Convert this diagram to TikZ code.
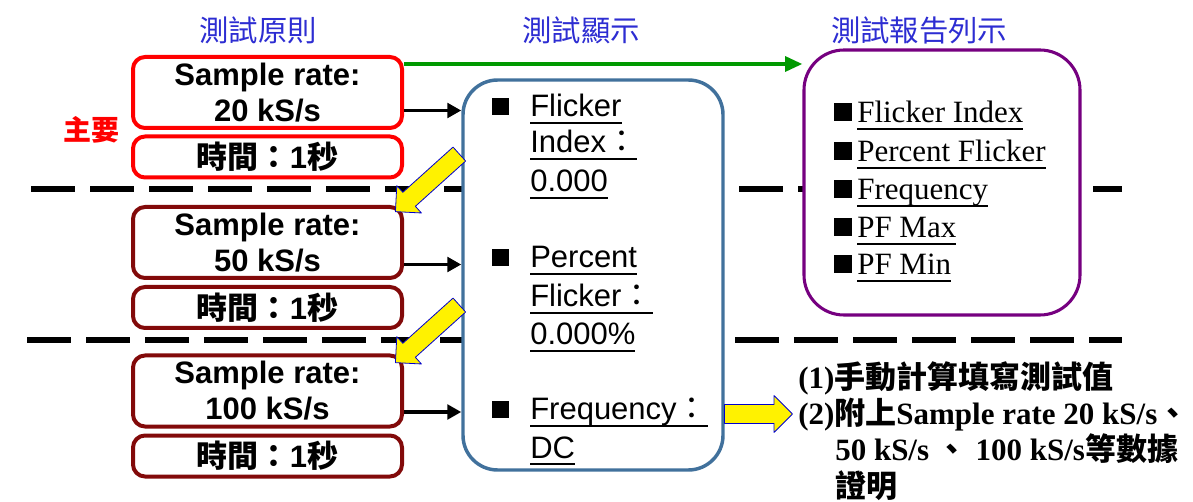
\documentclass[tikz,border=0pt]{standalone}
\usepackage{fontspec}
\setmainfont{Liberation Serif}
\setsansfont{Liberation Sans}
\newfontfamily\cjk{Noto Sans CJK TC}
\usetikzlibrary{arrows.meta,shapes.arrows}
\definecolor{titleblue}{RGB}{45,45,210}
\definecolor{boxbrown}{RGB}{130,10,10}
\definecolor{dispblue}{RGB}{65,113,156}
\definecolor{reppurple}{RGB}{118,0,128}
\definecolor{arrgreen}{RGB}{0,153,0}
\newcommand\ulin[1]{\setbox0=\hbox{#1}\rlap{\rule[-5pt]{\wd0}{1.3pt}}\box0}
\newcommand\sqb{\llap{\rule[1.5pt]{12.75pt}{12.75pt}\hspace{15.75pt}}}
\newcommand\sqp{\llap{\rule[1.5pt]{13.5pt}{13.5pt}\hspace{3.75pt}}}
\tikzset{
  colhead/.style={font=\cjk\fontsize{22pt}{26pt}\selectfont, text=titleblue},
  ratebox/.style={draw, line width=3pt, rounded corners=9pt, minimum width=201.75pt, fill=white, align=center, inner sep=0pt, font=\sffamily\bfseries\fontsize{23.25pt}{27pt}\selectfont},
  bigbox/.style={ratebox, minimum height=53.25pt},
  timebox/.style={ratebox, minimum height=30.75pt},
  divider/.style={line width=4.5pt, dash pattern=on 33pt off 11.25pt},
  feed/.style={-{Triangle[length=10.5pt,width=11pt]}, line width=2.6pt},
  yarrow/.style={single arrow, draw=blue!80!black, line width=0.6pt, fill=yellow, inner xsep=0pt, inner ysep=6.75pt, single arrow head extend=6.75pt, single arrow tip angle=90},
  dispitem/.style={anchor=base west, inner sep=0pt, font=\sffamily\fontsize{23.25pt}{27pt}\selectfont},
  repitem/.style={anchor=base west, inner sep=0pt, font=\rmfamily\fontsize{23.25pt}{27pt}\selectfont},
  note/.style={anchor=base west, inner sep=0pt, font=\rmfamily\bfseries\fontsize{23.25pt}{27pt}\selectfont}
}
\begin{document}
\begin{tikzpicture}[x=0.75pt, y=-0.75pt, line join=round]
\useasboundingbox (0,0) rectangle (1193,502);
% column titles
\node[colhead] (h1) at (258,30) {測試原則};
\node[colhead] (h2) at (581,30) {測試顯示};
\node[colhead] (h3) at (919,30) {測試報告列示};
\node[font=\cjk\bfseries\fontsize{21pt}{25pt}\selectfont, text=red] (main) at (91,130) {主要};
% dashed dividers
\draw[divider] (31,189) -- (1122,189);
\draw[divider] (27,340) -- (1122,340);
% test principles
\node[bigbox, draw=red] (r1) at (267.5,92.5) {Sample rate:\\20 kS/s};
\node[timebox, draw=red] (r2) at (267.5,157) {{\cjk 時間：}1{\cjk 秒}};
\node[bigbox, draw=boxbrown] (r3) at (267.5,242.5) {Sample rate:\\50 kS/s};
\node[timebox, draw=boxbrown] (r4) at (267.5,307.5) {{\cjk 時間：}1{\cjk 秒}};
\node[bigbox, draw=boxbrown] (r5) at (267.5,391) {Sample rate:\\100 kS/s};
\node[timebox, draw=boxbrown] (r6) at (267.5,456) {{\cjk 時間：}1{\cjk 秒}};
% display and report boxes
\node[draw=dispblue, line width=2.6pt, rounded corners=26pt, fill=white, minimum width=195pt, minimum height=292.5pt] (disp) at (593,275) {};
\node[draw=reppurple, line width=2.3pt, rounded corners=30pt, fill=white, minimum width=207pt, minimum height=198.75pt] (rep) at (942,182.5) {};
% display items
\node[dispitem] (d1) at (530,117) {\sqb\ulin{Flicker}};
\node[dispitem] (d2) at (530,153) {\ulin{Index{\cjk ：}}};
\node[dispitem] (d3) at (530,192) {\ulin{0.000}};
\node[dispitem] (d4) at (530,268) {\sqb\ulin{Percent}};
\node[dispitem] (d5) at (530,307) {\ulin{Flicker{\cjk ：}}};
\node[dispitem] (d6) at (530,345) {\ulin{0.000\%}};
\node[dispitem] (d7) at (530,420) {\sqb\ulin{Frequency{\cjk ：}}};
\node[dispitem] (d8) at (530,458) {\ulin{DC}};
% report items
\node[repitem] (p1) at (857,123) {\sqp\ulin{Flicker Index}};
\node[repitem] (p2) at (857,162) {\sqp\ulin{Percent Flicker}};
\node[repitem] (p3) at (857,200) {\sqp\ulin{Frequency}};
\node[repitem] (p4) at (857,238) {\sqp\ulin{PF Max}};
\node[repitem] (p5) at (857,275) {\sqp\ulin{PF Min}};
% notes
\node[note] (n1) at (798,388) {(1){\cjk 手動計算填寫測試值}};
\node[note] (n2) at (798,424) {(2){\cjk 附上}Sample rate 20 kS/s{\cjk 、}};
\node[note] (n3) at (835,460) {50 kS/s {\cjk 、} 100 kS/s{\cjk 等數據}};
\node[note] (n4) at (835,497) {{\cjk 證明}};
% connectors
\draw[arrgreen, line width=3pt, -{Triangle[length=13pt,width=11pt]}] ([yshift=-6.75pt]r1.north east) -- ([yshift=-6.75pt]r1.north east -| rep.west);
\draw[feed] ([yshift=-13.5pt]r1.east) -- ([yshift=-13.5pt]r1.east -| disp.west);
\draw[feed] ([yshift=-16.5pt]r3.east) -- ([yshift=-16.5pt]r3.east -| disp.west);
\draw[feed] ([yshift=-15.75pt]r5.east) -- ([yshift=-15.75pt]r5.east -| disp.west);
\node[yarrow, minimum height=64.5pt, rotate=222, anchor=tip] (ya1) at (395,212) {};
\node[yarrow, minimum height=64.5pt, rotate=222, anchor=tip] (ya2) at (395,363) {};
\node[yarrow, minimum height=51pt, anchor=tip] (ya3) at (793,414) {};
\end{tikzpicture}
\end{document}
